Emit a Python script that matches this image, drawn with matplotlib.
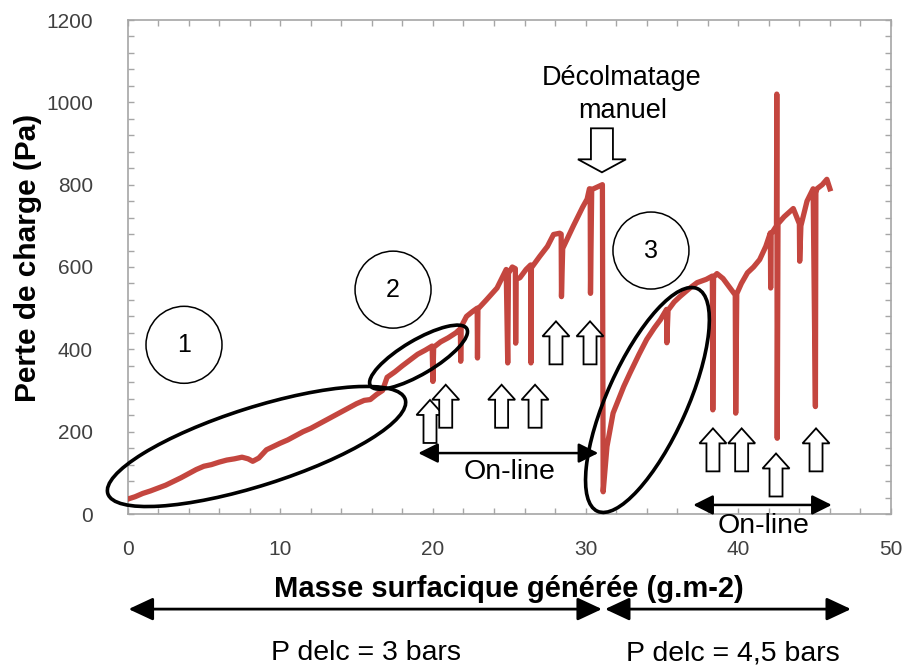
import matplotlib
matplotlib.use("Agg")
import matplotlib.pyplot as plt
from matplotlib.patches import Ellipse, Polygon
from matplotlib.transforms import Affine2D, ScaledTranslation
from matplotlib.ticker import MultipleLocator

plt.rcParams['font.family'] = ['Liberation Sans', 'DejaVu Sans']

# ---------------- data ----------------
mass_seg1 = [0.0, 0.5, 1.0, 1.5, 2.0, 2.5, 3.0, 3.5, 4.0, 4.5,
             5.0, 5.5, 6.0, 6.5, 7.0, 7.5, 7.9, 8.2, 8.6, 9.1,
             9.5, 10.0, 10.5, 11.0, 11.5, 12.0, 12.5, 13.0, 13.5, 14.0,
             14.5, 15.0, 15.5, 15.9, 16.3, 16.7]
dp_seg1 = [36, 42, 50, 56, 63, 70, 79, 88, 98, 108,
           116, 120, 126, 131, 134, 138, 134, 128, 136, 156,
           163, 172, 180, 190, 200, 208, 218, 228, 238, 248,
           258, 268, 276, 278, 290, 300]

mass_seg2 = [17.0, 17.5, 18.0, 18.5, 19.0, 19.5, 19.95, 20.0, 20.05, 20.5,
             21.0, 21.5, 21.8, 21.82, 21.85, 22.2, 22.6, 22.9, 22.92, 22.95,
             23.5, 24.2, 24.8, 24.9, 24.95, 25.2, 25.4, 25.42, 25.45, 25.7,
             26.1, 26.4, 26.42, 26.45, 27.0, 27.5, 27.9, 28.3, 28.4, 28.42,
             28.5, 29.2, 29.8, 30.1, 30.25, 30.3, 30.32, 30.4, 30.8, 31.1]
dp_seg2 = [332, 345, 360, 374, 388, 398, 408, 322, 405, 418,
           428, 440, 450, 371, 455, 480, 492, 500, 379, 498,
           520, 549, 594, 367, 585, 600, 596, 415, 570, 574,
           594, 605, 367, 598, 626, 650, 679, 682, 680, 528,
           645, 700, 745, 765, 790, 790, 536, 788, 795, 800]

mass_seg3 = [31.15, 31.4, 31.8, 32.5, 32.9, 33.5, 34.0, 34.5, 34.9, 35.3,
             35.32, 35.4, 35.8, 36.2, 36.8, 37.3, 37.9, 38.3, 38.33, 38.38,
             38.6, 39.0, 39.4, 39.8, 39.83, 39.9, 40.2, 40.6, 41.0, 41.4,
             41.8, 42.1, 42.12, 42.15, 42.5, 42.52, 42.55, 42.6, 43.0, 43.6,
             44.0, 44.02, 44.1, 44.5, 44.9, 45.05, 45.08, 45.15, 45.5, 45.8,
             46.0]
dp_seg3 = [54, 164, 245, 310, 342, 388, 424, 452, 472, 497,
           416, 495, 515, 529, 548, 562, 570, 578, 253, 575,
           584, 572, 552, 532, 245, 535, 560, 586, 600, 618,
           650, 683, 549, 680, 700, 1020, 184, 705, 722, 742,
           705, 614, 700, 760, 790, 261, 780, 790, 800, 813,
           790]

mass = mass_seg1 + mass_seg2 + mass_seg3
dp = dp_seg1 + dp_seg2 + dp_seg3

x_ticks = [0, 10, 20, 30, 40, 50]
y_ticks = [0, 200, 400, 600, 800, 1000, 1200]

# annotation anchors (data coordinates)
circle_labels = ['1', '2', '3']
circle_x = [3.70, 17.39, 34.28]
circle_y = [411, 545, 640]

up_arrow_x = [19.81, 20.84, 24.50, 26.69, 28.06, 30.29, 38.34, 40.22, 42.47, 45.09]
up_arrow_y = [277, 314, 314, 314, 468, 468, 208, 208, 147, 208]

# ---------------- figure ----------------
fig = plt.figure(figsize=(9.08, 6.68), dpi=100)
ax = fig.add_axes([127.5 / 908, 154 / 668, 763.5 / 908, 494 / 668])

ax.plot(mass, dp, color='#C4463F', lw=3.8, solid_joinstyle='round', zorder=3)

ax.set_xlim(0, 50)
ax.set_ylim(0, 1200)
ax.set_xticks(x_ticks)
ax.set_yticks(y_ticks)
ax.xaxis.set_minor_locator(MultipleLocator(2))
ax.yaxis.set_minor_locator(MultipleLocator(40))
ax.tick_params(which='both', direction='in', top=True, right=True,
               color='#A6A6A6', width=1.0, length=4.5)
ax.tick_params(axis='x', which='major', labelsize=15, labelcolor='#404040', pad=18.5)
ax.tick_params(axis='y', which='major', labelsize=15, labelcolor='#404040', pad=25)
for sp in ax.spines.values():
    sp.set_color('#A6A6A6')
    sp.set_linewidth(1.2)

ax.set_xlabel('Masse surfacique générée (g.m-2)', fontsize=21, fontweight='bold')
ax.xaxis.set_label_coords(0.5, -0.152)
ax.xaxis.label.set_va('center')
ax.set_ylabel('Perte de charge (Pa)', fontsize=21.5, fontweight='bold')
ax.yaxis.set_label_coords(-0.130, 0.518)
ax.yaxis.label.set_va('center')


def px_at(x, y):
    """Transform: pixel offsets around a data-coordinate anchor."""
    return Affine2D() + ScaledTranslation(x, y, ax.transData)


# circles with numbers
for lab, cx, cy in zip(circle_labels, circle_x, circle_y):
    ax.add_patch(Ellipse((0, 0), 76, 77, transform=px_at(cx, cy), fill=False,
                         ec='black', lw=1.1, clip_on=False, zorder=5))
    ax.text(cx, cy, lab, ha='center', va='center', fontsize=18, zorder=6)

# ellipses around the regions
ellipses = [((8.45, 164), 312, 78, 17.6),
            ((19.06, 381), 112, 34, 30.6),
            ((34.05, 277), 244, 80, 65.8)]
for (cx, cy), w, h, ang in ellipses:
    ax.add_patch(Ellipse((0, 0), w, h, angle=ang, transform=px_at(cx, cy),
                         fill=False, ec='black', lw=2.6, clip_on=False, zorder=5))

# hollow up arrows (tip at anchor, pixels)
up_shape = [(0, 0), (13.5, -15), (6.5, -15), (6.5, -43), (-6.5, -43),
            (-6.5, -15), (-13.5, -15)]
for ux, uy in zip(up_arrow_x, up_arrow_y):
    ax.add_patch(Polygon(up_shape, closed=True, transform=px_at(ux, uy),
                         fc='white', ec='black', lw=1.3, clip_on=False, zorder=6))

# hollow down arrow (Décolmatage manuel)
down_shape = [(0, 0), (24, 13), (11, 13), (11, 44), (-11, 44), (-11, 13), (-24, 13)]
ax.add_patch(Polygon(down_shape, closed=True, transform=px_at(31.07, 830),
                     fc='white', ec='black', lw=1.3, clip_on=False, zorder=6))
ax.text(32.38, 1060, 'Décolmatage', ha='center', va='center', fontsize=19.5)
ax.text(32.45, 979, 'manuel', ha='center', va='center', fontsize=19.5)


def double_arrow(x1, x2, y, lw=1.8, hl=0.6, hw=0.3):
    ax.annotate('', xy=(x2, y), xytext=(x1, y), xycoords='data',
                arrowprops=dict(arrowstyle=f'<|-|>,head_length={hl},head_width={hw}',
                                color='black', lw=lw, shrinkA=0, shrinkB=0,
                                mutation_scale=20),
                annotation_clip=False, zorder=6)


double_arrow(19.04, 30.83, 148)
ax.text(25.05, 102, 'On-line', ha='center', va='center', fontsize=20.5)
double_arrow(37.05, 46.12, 22)
ax.text(41.68, -29, 'On-line', ha='center', va='center', fontsize=20.5, clip_on=False)

# pressure regions below the axis
double_arrow(0.07, 31.07, -231, lw=2.0, hl=0.75, hw=0.35)
double_arrow(31.27, 47.38, -231, lw=2.0, hl=0.75, hw=0.35)
ax.text(15.59, -338, 'P delc = 3 bars', ha='center', va='center', fontsize=20.5,
        clip_on=False)
ax.text(39.62, -338, 'P delc = 4,5 bars', ha='center', va='center', fontsize=20.5,
        clip_on=False)

fig.savefig('out.png', dpi=100)
